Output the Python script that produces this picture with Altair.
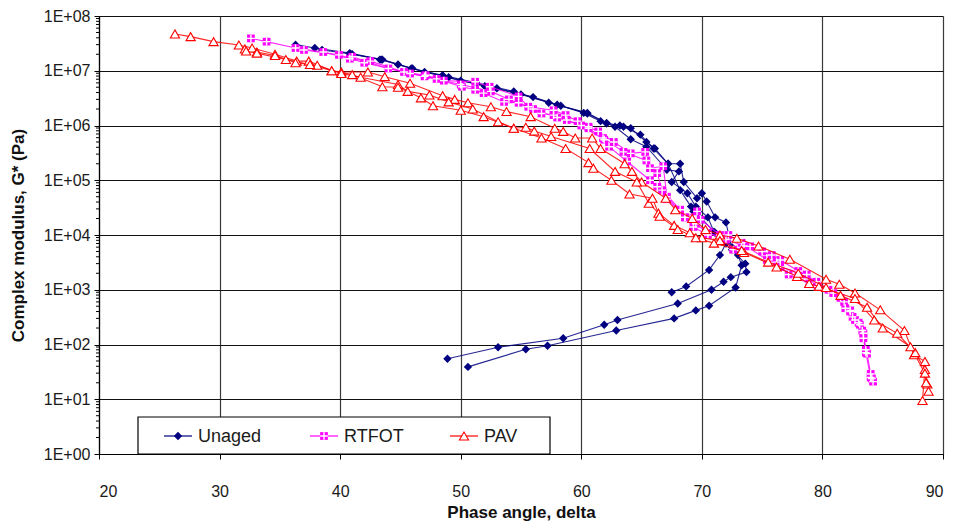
import altair as alt
import pandas as pd

# ---------------- data ----------------
GROUPS = ["Unaged", "RTFOT", "PAV"]
COLORS = ["#000080", "#FF00FF", "#FF0000"]
X_TICKS = [20, 30, 40, 50, 60, 70, 80, 90]
Y_TICKS = [1, 10, 100, 1e3, 1e4, 1e5, 1e6, 1e7, 1e8]
MINOR_MULT = [2, 3, 4, 5, 6, 7, 8, 9]
MINOR_DECADES = [1, 10, 100, 1e3, 1e4, 1e5, 1e6, 1e7]

# (phase angle [deg], |G*| [Pa])
UNAGED_1 = [(36.3, 3.0e7), (37.9, 2.6e7), (40.8, 2.1e7), (43.4, 1.6e7), (45.9, 1.1e7),
            (48.5, 8.3e6), (51.3, 6.0e6), (54.4, 4.2e6), (57.3, 2.6e6), (60.5, 1.7e6),
            (62.1, 1.1e6), (63.2, 1.0e6), (64.1, 8.9e5), (65.4, 5.0e5), (66.1, 3.8e5),
            (67.2, 2.0e5), (68.2, 2.0e5), (68.5, 9.3e4), (69.6, 4.7e4), (70.0, 5.8e4),
            (70.4, 4.1e4), (71.1, 2.1e4), (72.0, 1.7e4), (72.5, 5.4e3), (73.6, 3.0e3),
            (73.7, 2.1e3), (72.4, 1.7e3), (71.8, 1.4e3), (70.8, 1.0e3), (68.0, 5.6e2),
            (63.0, 2.8e2), (61.9, 2.3e2), (58.5, 1.3e2), (53.1, 89), (48.9, 55)]
UNAGED_2 = [(38.5, 2.4e7), (41.0, 2.0e7), (43.3, 1.6e7), (44.8, 1.3e7), (47.0, 9.5e6),
            (50.0, 6.6e6), (53.0, 4.8e6), (56.0, 3.3e6), (58.3, 2.3e6), (60.2, 1.7e6),
            (61.6, 1.2e6), (62.8, 9.5e5), (64.1, 5.6e5), (65.4, 4.1e5), (67.1, 1.55e5),
            (68.1, 1.45e5), (67.5, 9.3e4), (68.8, 5.8e4), (69.5, 3.3e4), (70.5, 2.1e4),
            (71.0, 1.15e4), (72.5, 6.0e3), (73.0, 4.3e3), (73.3, 2.8e3), (72.8, 1.1e3),
            (70.6, 5.1e2), (69.5, 4.2e2), (67.7, 3.0e2), (62.9, 1.8e2), (57.2, 95),
            (55.4, 82), (50.6, 39)]
UNAGED_3 = [(40.8, 2.05e7), (43.5, 1.6e7), (46.0, 1.1e7), (49.0, 7.6e6), (52.0, 5.2e6),
            (55.0, 3.7e6), (58.0, 2.4e6), (60.5, 1.65e6), (62.1, 1.1e6), (63.5, 9.5e5),
            (64.9, 6.8e5), (66.0, 3.8e5), (67.2, 2.0e5), (68.2, 6.6e4), (69.1, 3.3e4),
            (69.3, 2.7e4), (70.0, 1.95e4), (71.1, 1.1e4), (72.0, 7.0e3), (71.5, 4.3e3),
            (70.6, 2.3e3), (68.7, 1.15e3), (67.5, 9.0e2)]

RTFOT_1 = [(32.6, 3.9e7), (33.9, 3.4e7), (36.3, 2.6e7), (38.6, 2.2e7), (40.8, 1.66e7),
           (42.5, 1.5e7), (45.3, 9.5e6), (47.1, 8.3e6), (48.6, 6.6e6), (51.2, 6.3e6),
           (52.4, 5.1e6), (54.8, 3.4e6), (55.6, 2.2e6), (57.7, 1.9e6), (58.7, 1.55e6),
           (59.7, 1.2e6), (60.6, 9.5e5), (61.4, 7.8e5), (62.7, 5.0e5), (64.1, 3.1e5),
           (65.3, 3.3e5), (65.7, 1.66e5), (66.8, 1.8e5), (67.1, 5.0e4), (68.6, 2.1e4),
           (69.6, 2.7e4), (69.9, 1.9e4), (71.5, 1.0e4), (72.6, 5.4e3), (74.0, 6.2e3),
           (75.8, 4.3e3), (76.5, 2.6e3), (78.7, 1.9e3), (79.6, 1.15e3), (81.8, 6.0e2),
           (82.3, 4.0e2), (82.7, 2.8e2), (83.1, 2.3e2), (83.4, 1.3e2), (83.7, 68),
           (84.0, 29), (84.2, 21)]
RTFOT_2 = [(37.0, 2.4e7), (39.9, 1.95e7), (42.0, 1.4e7), (45.8, 8.9e6), (48.0, 7.1e6),
           (50.1, 5.1e6), (51.2, 4.5e6), (51.9, 3.9e6), (53.6, 2.7e6), (54.8, 2.6e6),
           (56.7, 1.66e6), (57.7, 1.55e6), (58.8, 1.26e6), (60.6, 8.9e5), (61.8, 5.9e5),
           (63.5, 3.3e5), (65.4, 2.3e5), (66.3, 1.35e5), (66.7, 6.6e4), (68.2, 2.9e4),
           (69.3, 1.4e4), (70.5, 1.0e4), (72.2, 1.0e4), (73.3, 7.2e3), (75.4, 3.5e3),
           (76.2, 3.2e3), (77.2, 1.9e3), (78.9, 1.3e3), (80.9, 8.7e2), (81.9, 4.6e2),
           (82.5, 3.2e2), (83.3, 1.8e2), (83.6, 71), (84.0, 25), (84.1, 24)]
RTFOT_3 = [(41.0, 1.8e7), (44.0, 1.1e7), (47.0, 7.9e6), (50.0, 5.6e6), (52.5, 4.2e6),
           (54.0, 3.0e6), (56.0, 2.0e6), (58.0, 1.4e6), (60.0, 1.0e6), (61.9, 5.5e5),
           (62.3, 4.1e5), (63.8, 2.2e5), (65.7, 1.0e5), (66.3, 7.6e4), (67.1, 4.5e4),
           (68.6, 2.1e4), (69.5, 1.6e4), (70.5, 1.1e4), (72.0, 8.3e3), (73.5, 6.3e3),
           (75.0, 5.0e3), (76.5, 3.5e3), (78.0, 2.2e3), (79.5, 1.4e3), (80.5, 1.0e3),
           (81.5, 7.1e2), (82.3, 4.2e2), (83.0, 2.5e2), (83.4, 1.6e2), (83.6, 80)]

PAV_1 = [(26.3, 4.7e7), (27.6, 4.2e7), (29.5, 3.4e7), (31.6, 2.95e7), (32.7, 2.6e7),
         (34.6, 2.0e7), (36.4, 1.5e7), (37.4, 1.5e7), (39.3, 1.0e7), (40.1, 9.5e6),
         (42.3, 9.5e6), (43.7, 7.8e6), (45.8, 5.9e6), (48.5, 3.5e6), (49.5, 3.0e6),
         (50.6, 2.6e6), (52.5, 2.2e6), (53.8, 1.8e6), (55.8, 1.45e6), (57.8, 8.9e5),
         (58.5, 7.8e5), (59.5, 5.9e5), (60.9, 5.9e5), (61.6, 3.8e5), (63.6, 2.0e5),
         (64.2, 1.45e5), (65.0, 9.3e4), (67.0, 4.7e4), (67.8, 2.9e4), (69.2, 2.0e4),
         (70.3, 1.26e4), (71.5, 1.0e4), (72.9, 8.7e3), (74.7, 6.3e3), (77.3, 3.6e3),
         (80.3, 1.55e3), (81.4, 1.26e3), (82.7, 8.7e2), (84.8, 4.3e2), (86.8, 1.8e2),
         (87.6, 65), (88.5, 49), (88.7, 19), (88.8, 14)]
PAV_2 = [(32.1, 2.5e7), (33.1, 2.2e7), (34.6, 1.9e7), (36.3, 1.4e7), (38.1, 1.26e7),
         (40.1, 8.9e6), (41.7, 7.6e6), (44.8, 5.6e6), (45.6, 4.2e6), (47.4, 3.6e6),
         (49.0, 2.7e6), (51.0, 2.0e6), (53.1, 1.17e6), (54.4, 8.9e5), (55.4, 9.3e5),
         (56.1, 7.9e5), (57.5, 6.3e5), (60.7, 3.8e5), (62.8, 1.45e5), (64.6, 9.3e4),
         (65.6, 3.8e4), (66.4, 2.5e4), (67.7, 1.5e4), (69.0, 1.1e4), (70.0, 8.9e3),
         (71.5, 7.9e3), (73.5, 4.8e3), (76.2, 2.6e3), (77.9, 1.74e3), (78.9, 1.3e3),
         (79.7, 1.15e3), (82.7, 6.9e2), (84.3, 2.8e2), (86.2, 1.6e2), (87.7, 71),
         (88.5, 35), (88.3, 9.5)]
PAV_3 = [(32.2, 2.3e7), (33.1, 2.1e7), (35.5, 1.6e7), (37.5, 1.3e7), (39.3, 1.0e7),
         (41.0, 8.5e6), (43.5, 5.1e6), (44.8, 5.0e6), (46.7, 3.2e6), (47.7, 2.3e6),
         (50.0, 1.9e6), (51.9, 1.45e6), (54.4, 8.9e5), (56.7, 5.9e5), (58.7, 3.8e5),
         (60.6, 2.1e5), (61.0, 1.66e5), (62.5, 1.0e5), (64.0, 5.6e4), (65.9, 4.7e4),
         (66.5, 2.2e4), (68.0, 1.26e4), (69.5, 8.9e3), (71.0, 7.1e3), (73.3, 5.2e3),
         (75.5, 3.2e3), (78.0, 2.0e3), (80.3, 1.1e3), (81.5, 7.9e2), (83.7, 4.8e2),
         (85.0, 2.0e2), (87.3, 91), (88.5, 30), (88.6, 20)]

CURVES = {
    "Unaged": [UNAGED_1, UNAGED_2, UNAGED_3],
    "RTFOT": [RTFOT_1, RTFOT_2, RTFOT_3],
    "PAV": [PAV_1, PAV_2, PAV_3],
}

rows = []
for g in GROUPS:
    for ci, curve in enumerate(CURVES[g]):
        for i, (d, G) in enumerate(curve):
            rows.append({"group": g, "curve": f"{g}-{ci}", "idx": i, "delta": d, "G": G})
df = pd.DataFrame(rows)

FONT = "Liberation Sans"
W, H = 844, 438
DIA, SQ, TRI = 70, 60, 85

xenc = alt.X("delta:Q",
             scale=alt.Scale(domain=[20, 90], nice=False, zero=False),
             axis=alt.Axis(values=X_TICKS, title="Phase angle, delta", grid=True,
                           gridColor="#3a3a3a", gridWidth=1.2, domainColor="#000",
                           domainWidth=1.2, tickColor="#000", tickSize=5,
                           labelFontSize=16, labelFont=FONT, labelColor="#1a1a1a",
                           labelPadding=24, titleFont=FONT, titleFontSize=17,
                           titleFontWeight="bold", titleColor="#111", titlePadding=5))
yenc = alt.Y("G:Q",
             scale=alt.Scale(type="log", domain=[1, 1e8], nice=False),
             axis=alt.Axis(values=Y_TICKS, labelExpr="'1E+0' + round(log(datum.value)/LN10)",
                           title="Complex modulus, G* (Pa)", grid=True, gridColor="#111",
                           gridWidth=1.2, domainColor="#000", domainWidth=1.2,
                           tickColor="#000", tickSize=5, labelFontSize=16, labelFont=FONT,
                           labelColor="#1a1a1a", labelPadding=4, titleFont=FONT,
                           titleFontSize=17, titleFontWeight="bold", titleColor="#111",
                           titlePadding=16))

layers = []
for g, col in zip(GROUPS, COLORS):
    base = alt.Chart(df).transform_filter(alt.datum.group == g)
    layers.append(base.mark_line(color=col, strokeWidth=1.1, opacity=0.85).encode(
        x=xenc, y=yenc, detail="curve:N", order="idx:Q"))
    if g == "Unaged":
        layers.append(base.mark_point(shape="diamond", filled=True, size=DIA, color=col,
                                      opacity=1).encode(x=xenc, y=yenc))
    elif g == "RTFOT":
        layers.append(base.mark_point(shape="square", filled=True, size=SQ, color=col,
                                      opacity=1).encode(x=xenc, y=yenc))
        layers.append(base.mark_point(shape="M-1,0H1M0,-1V1", filled=False, size=SQ,
                                      stroke="white", strokeWidth=1.4, opacity=1)
                      .encode(x=xenc, y=yenc))
    else:
        layers.append(base.mark_point(shape="triangle-up", filled=True, size=TRI,
                                      fill="white", stroke=col, strokeWidth=1.1,
                                      opacity=1).encode(x=xenc, y=yenc))

# minor ticks on the log axis
minor_vals = [m * d for d in MINOR_DECADES for m in MINOR_MULT]
minor = alt.Chart(pd.DataFrame({"G": minor_vals})).mark_rule(color="#000", strokeWidth=1).encode(
    x=alt.value(-3), x2=alt.value(0), y=alt.Y("G:Q", scale=alt.Scale(type="log", domain=[1, 1e8], nice=False)))
layers.append(minor)

# legend box (inside plot, bottom-left)
one = pd.DataFrame({"a": [0]})
LEG_Y = 420
layers.append(alt.Chart(one).mark_rect(fill="white", stroke="#000", strokeWidth=1.2).encode(
    x=alt.value(39), x2=alt.value(451), y=alt.value(401), y2=alt.value(438)))
LEG_X = [65, 211, 351]
for g, col, lx in zip(GROUPS, COLORS, LEG_X):
    layers.append(alt.Chart(one).mark_rule(color=col, strokeWidth=1.2).encode(
        x=alt.value(lx), x2=alt.value(lx + 28), y=alt.value(LEG_Y)))
    if g == "Unaged":
        layers.append(alt.Chart(one).mark_point(shape="diamond", filled=True, size=DIA,
                                                color=col, opacity=1).encode(
            x=alt.value(lx + 14), y=alt.value(LEG_Y)))
    elif g == "RTFOT":
        layers.append(alt.Chart(one).mark_point(shape="square", filled=True, size=SQ,
                                                color=col, opacity=1).encode(
            x=alt.value(lx + 14), y=alt.value(LEG_Y)))
        layers.append(alt.Chart(one).mark_point(shape="M-1,0H1M0,-1V1", filled=False, size=SQ,
                                                stroke="white", strokeWidth=1.4, opacity=1).encode(
            x=alt.value(lx + 14), y=alt.value(LEG_Y)))
    else:
        layers.append(alt.Chart(one).mark_point(shape="triangle-up", filled=True, size=TRI,
                                                fill="white", stroke=col, strokeWidth=1.1,
                                                opacity=1).encode(
            x=alt.value(lx + 14), y=alt.value(LEG_Y)))
    layers.append(alt.Chart(one).mark_text(align="left", baseline="middle", fontSize=18,
                                           font=FONT, color="#1a1a1a").encode(
        x=alt.value(lx + 34), y=alt.value(LEG_Y + 1), text=alt.value(g)))

chart = alt.layer(*layers).properties(
    width=W, height=H,
    autosize=alt.AutoSizeParams(type="none"),
    padding={"left": 91, "top": 8, "right": 3, "bottom": 70},
    background="white",
).configure_view(stroke=None)

chart.save("out.html", embed_options={"renderer": "svg", "actions": False})
